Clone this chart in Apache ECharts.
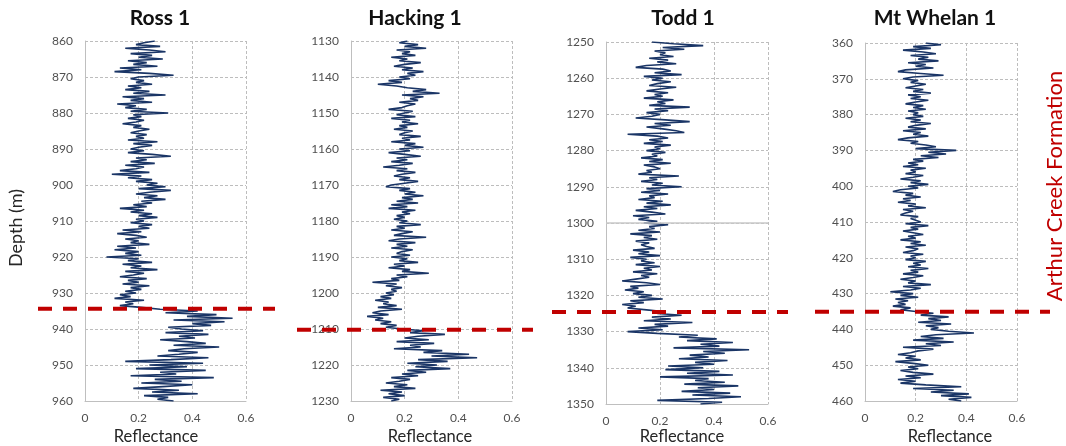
<!DOCTYPE html>
<html>
<head>
<meta charset="utf-8">
<script src="https://cdn.jsdelivr.net/npm/echarts@6/dist/echarts.min.js"></script>
<style>html,body{margin:0;padding:0;background:#fff}#c{width:1066px;height:446px}</style>
</head>
<body>
<div id="c"></div>
<script>
// ---------- DATA ----------
const wellNames = ['Ross 1', 'Hacking 1', 'Todd 1', 'Mt Whelan 1'];
const depthStart = [860, 1130, 1250, 360];
const depthEnd = [960, 1230, 1350, 460];
const depthStep = 0.5;
const formationTop = [934.4, 1210.2, 1324.6, 435.1];
const xTicks = [0, 0.2, 0.4, 0.6];
const formationLabel = 'Arthur Creek Formation';
const xAxisTitle = 'Reflectance';
const yAxisTitle = 'Depth (m)';

const rossRef = [
0.26,0.22,0.19,0.28,0.15,0.24,0.30,0.17,0.25,0.20,0.29,0.16,0.23,0.18,0.27,0.13,0.21,0.11,0.24,0.33,
0.20,0.17,0.22,0.19,0.25,0.16,0.21,0.15,0.24,0.18,0.30,0.14,0.22,0.17,0.25,0.12,0.19,0.15,0.23,0.17,
0.31,0.18,0.21,0.16,0.22,0.19,0.14,0.21,0.18,0.24,0.20,0.17,0.23,0.19,0.22,0.16,0.27,0.18,0.25,0.20,
0.17,0.22,0.16,0.25,0.32,0.19,0.23,0.17,0.26,0.15,0.22,0.19,0.13,0.24,0.10,0.21,0.16,0.25,0.19,0.27,
0.23,0.30,0.20,0.32,0.24,0.19,0.27,0.22,0.30,0.21,0.25,0.18,0.23,0.13,0.22,0.17,0.25,0.20,0.27,0.19,
0.22,0.17,0.25,0.20,0.24,0.14,0.21,0.12,0.19,0.23,0.15,0.20,0.17,0.24,0.12,0.19,0.11,0.20,0.15,0.21,
0.08,0.20,0.16,0.25,0.14,0.21,0.17,0.27,0.15,0.22,0.18,0.13,0.23,0.16,0.20,0.14,0.24,0.17,0.21,0.15,
0.19,0.13,0.17,0.11,0.22,0.15,0.18,0.13,0.21,0.28,0.42,0.30,0.49,0.38,0.55,0.33,0.52,0.40,0.47,0.31,
0.36,0.44,0.30,0.46,0.35,0.41,0.28,0.38,0.45,0.33,0.50,0.37,0.31,0.42,0.35,0.27,0.46,0.32,0.15,0.44,
0.24,0.38,0.19,0.45,0.28,0.34,0.17,0.48,0.26,0.36,0.21,0.40,0.29,0.18,0.35,0.25,0.42,0.22,0.31,0.27,0.33
];
const hackingRef = [
0.21,0.18,0.25,0.20,0.28,0.17,0.22,0.19,0.24,0.15,0.21,0.18,0.26,0.20,0.16,0.23,0.19,0.27,0.21,0.24,
0.18,0.22,0.14,0.19,0.10,0.17,0.21,0.28,0.23,0.33,0.19,0.27,0.22,0.25,0.18,0.24,0.21,0.19,0.14,0.23,
0.20,0.17,0.24,0.15,0.22,0.19,0.25,0.18,0.21,0.16,0.23,0.20,0.18,0.26,0.19,0.22,0.15,0.24,0.20,0.27,
0.18,0.22,0.14,0.20,0.26,0.17,0.21,0.15,0.23,0.18,0.12,0.21,0.17,0.24,0.19,0.16,0.22,0.18,0.25,0.20,
0.15,0.13,0.22,0.18,0.24,0.20,0.27,0.19,0.23,0.17,0.25,0.15,0.21,0.14,0.24,0.19,0.22,0.17,0.20,0.16,
0.21,0.18,0.26,0.17,0.20,0.15,0.23,0.19,0.16,0.28,0.18,0.14,0.24,0.17,0.21,0.15,0.23,0.19,0.17,0.22,
0.15,0.21,0.18,0.25,0.16,0.20,0.14,0.22,0.19,0.29,0.17,0.21,0.15,0.18,0.08,0.17,0.13,0.19,0.15,0.17,
0.13,0.16,0.11,0.15,0.09,0.14,0.12,0.17,0.10,0.19,0.11,0.08,0.14,0.06,0.12,0.09,0.15,0.11,0.17,0.13,
0.19,0.27,0.22,0.35,0.25,0.20,0.29,0.17,0.31,0.22,0.26,0.16,0.34,0.27,0.44,0.30,0.47,0.25,0.36,0.21,
0.32,0.24,0.37,0.21,0.28,0.19,0.25,0.15,0.22,0.18,0.13,0.21,0.16,0.24,0.11,0.19,0.14,0.20,0.12,0.18,0.15
];
const toddRef = [
0.17,0.25,0.36,0.21,0.29,0.18,0.22,0.20,0.25,0.16,0.23,0.19,0.26,0.15,0.11,0.21,0.24,0.18,0.28,0.14,
0.21,0.17,0.24,0.19,0.16,0.26,0.20,0.15,0.23,0.18,0.21,0.14,0.25,0.19,0.22,0.16,0.31,0.18,0.23,0.15,
0.20,0.17,0.11,0.22,0.31,0.18,0.24,0.15,0.21,0.26,0.29,0.08,0.19,0.23,0.16,0.21,0.14,0.24,0.18,0.20,
0.15,0.22,0.17,0.19,0.13,0.21,0.16,0.24,0.14,0.18,0.20,0.15,0.17,0.12,0.27,0.16,0.19,0.13,0.21,0.17,
0.28,0.15,0.20,0.13,0.23,0.16,0.18,0.12,0.21,0.15,0.24,0.14,0.19,0.11,0.17,0.22,0.10,0.16,0.12,0.19,
0.14,0.23,0.16,0.18,0.12,0.20,0.09,0.17,0.14,0.19,0.11,0.16,0.13,0.15,0.18,0.10,0.16,0.12,0.20,0.09,
0.15,0.13,0.18,0.11,0.20,0.14,0.17,0.10,0.19,0.13,0.16,0.11,0.06,0.15,0.20,0.09,0.12,0.07,0.14,0.10,
0.17,0.12,0.21,0.09,0.14,0.06,0.11,0.08,0.15,0.22,0.19,0.28,0.17,0.24,0.14,0.32,0.18,0.23,0.12,0.21,
0.08,0.19,0.34,0.27,0.41,0.30,0.47,0.35,0.42,0.25,0.53,0.36,0.44,0.31,0.38,0.27,0.45,0.33,0.40,0.23,
0.36,0.22,0.42,0.30,0.47,0.20,0.38,0.33,0.44,0.29,0.49,0.34,0.40,0.28,0.46,0.32,0.50,0.38,0.19,0.43,0.35
];
const whelanRef = [
0.24,0.30,0.19,0.26,0.15,0.23,0.28,0.18,0.25,0.21,0.29,0.17,0.24,0.20,0.27,0.16,0.13,0.22,0.31,0.19,
0.15,0.21,0.18,0.24,0.20,0.16,0.23,0.19,0.26,0.17,0.22,0.18,0.25,0.20,0.16,0.23,0.19,0.24,0.17,0.21,
0.19,0.23,0.16,0.22,0.18,0.26,0.20,0.17,0.24,0.15,0.22,0.19,0.25,0.17,0.13,0.21,0.18,0.24,0.28,0.20,
0.36,0.25,0.32,0.22,0.29,0.19,0.23,0.17,0.21,0.15,0.24,0.18,0.20,0.16,0.23,0.19,0.14,0.22,0.18,0.25,
0.17,0.21,0.14,0.11,0.19,0.16,0.22,0.15,0.18,0.13,0.20,0.17,0.24,0.15,0.19,0.16,0.14,0.21,0.18,0.20,
0.22,0.16,0.25,0.18,0.21,0.15,0.19,0.23,0.17,0.20,0.14,0.22,0.18,0.24,0.16,0.21,0.19,0.15,0.23,0.18,
0.20,0.16,0.24,0.19,0.22,0.17,0.25,0.18,0.21,0.15,0.23,0.19,0.14,0.20,0.17,0.26,0.15,0.22,0.18,0.10,
0.19,0.14,0.21,0.12,0.17,0.13,0.16,0.11,0.18,0.14,0.20,0.27,0.22,0.33,0.25,0.30,0.21,0.34,0.24,0.29,
0.26,0.33,0.43,0.28,0.22,0.31,0.19,0.35,0.24,0.30,0.15,0.27,0.21,0.18,0.13,0.20,0.16,0.22,0.12,0.19,
0.25,0.17,0.21,0.14,0.19,0.27,0.16,0.22,0.13,0.20,0.14,0.24,0.38,0.19,0.35,0.26,0.41,0.30,0.42,0.33,0.38
];
const reflectance = [rossRef, hackingRef, toddRef, whelanRef];

// ---------- LAYOUT ----------
const plotGrids = [
  {left: 85, width: 161, top: 41, height: 360},
  {left: 351, width: 161, top: 41, height: 360},
  {left: 606, width: 162, top: 42, height: 362},
  {left: 865, width: 152, top: 43, height: 358}
];
const lineGrids = [
  {left: 38, width: 237},
  {left: 297, width: 236},
  {left: 552, width: 236},
  {left: 815, width: 235}
];
const titleX = [160, 415, 683, 935];
const xNameX = [156, 430, 682, 950];

const FONT = 'Lato, "Open Sans", sans-serif';
const grid = [], xAxis = [], yAxis = [], series = [], graphic = [];

for (let i = 0; i < 4; i++) {
  const g = plotGrids[i];
  grid.push({left: g.left, top: g.top, width: g.width, height: g.height, containLabel: false});
  grid.push({left: lineGrids[i].left, top: g.top, width: lineGrids[i].width, height: g.height, containLabel: false});

  xAxis.push({
    gridIndex: 2 * i, type: 'value', min: xTicks[0], max: xTicks[xTicks.length - 1], interval: 0.2,
    axisLine: {show: true, onZero: false, lineStyle: {color: '#bfbfbf', width: 1}},
    axisTick: {show: false},
    axisLabel: {color: '#505050', fontSize: 12, fontFamily: FONT, margin: 11,
      formatter: v => String(Math.round(v * 10) / 10)},
    splitLine: {show: true, lineStyle: {color: '#bdbdbd', type: [3, 2], width: 1}}
  });
  xAxis.push({gridIndex: 2 * i + 1, type: 'value', min: 0, max: 1, show: false});

  yAxis.push({
    gridIndex: 2 * i, type: 'value', inverse: true, min: depthStart[i], max: depthEnd[i], interval: 10,
    axisLine: {show: true, onZero: false, lineStyle: {color: '#bfbfbf', width: 1}},
    axisTick: {show: false},
    axisLabel: {color: '#505050', fontSize: 12, fontFamily: FONT, margin: 12,
      formatter: v => String(v)},
    splitLine: {show: true, lineStyle: {color: '#bdbdbd', type: [3, 2], width: 1}}
  });
  yAxis.push({gridIndex: 2 * i + 1, type: 'value', inverse: true, min: depthStart[i], max: depthEnd[i], show: false});

  const data = reflectance[i].map((v, k) => [v, depthStart[i] + k * depthStep]);
  const s = {
    type: 'line', xAxisIndex: 2 * i, yAxisIndex: 2 * i, data: data,
    showSymbol: false, symbol: 'none', silent: true, animation: false,
    lineStyle: {color: '#1a3566', width: 1.6},
    z: 3
  };
  if (i === 2) {
    s.markLine = {silent: true, symbol: 'none', label: {show: false},
      lineStyle: {color: '#c8c8c8', type: 'solid', width: 1.5},
      data: [{yAxis: 1300}]};
  }
  series.push(s);
  series.push({
    type: 'line', xAxisIndex: 2 * i + 1, yAxisIndex: 2 * i + 1,
    data: [[0, formationTop[i]], [1, formationTop[i]]],
    showSymbol: false, symbol: 'none', silent: true, animation: false,
    lineStyle: {color: '#c00000', width: 4, type: [14, 11]}, z: 5
  });

  graphic.push({type: 'text', x: titleX[i], y: 18, style: {text: wellNames[i], x: 0, y: 0,
    textAlign: 'center', textVerticalAlign: 'middle', font: 'bold 21px ' + FONT, fill: '#111'}});
  graphic.push({type: 'text', x: xNameX[i], y: 437, style: {text: xAxisTitle, x: 0, y: 0,
    textAlign: 'center', textVerticalAlign: 'middle', font: '16.5px ' + FONT, fill: '#262626'}});
}

graphic.push({type: 'text', x: 16, y: 228, rotation: Math.PI / 2, style: {text: yAxisTitle, x: 0, y: 0,
  textAlign: 'center', textVerticalAlign: 'middle', font: '18px ' + FONT, fill: '#262626'}});
graphic.push({type: 'text', x: 1055, y: 186, rotation: Math.PI / 2, style: {text: formationLabel, x: 0, y: 0,
  textAlign: 'center', textVerticalAlign: 'middle', font: '22px ' + FONT, fill: '#c00000'}});

const chart = echarts.init(document.getElementById('c'), null, {renderer: 'canvas'});
chart.setOption({animation: false, backgroundColor: '#ffffff', grid, xAxis, yAxis, series, graphic});
</script>
</body>
</html>
